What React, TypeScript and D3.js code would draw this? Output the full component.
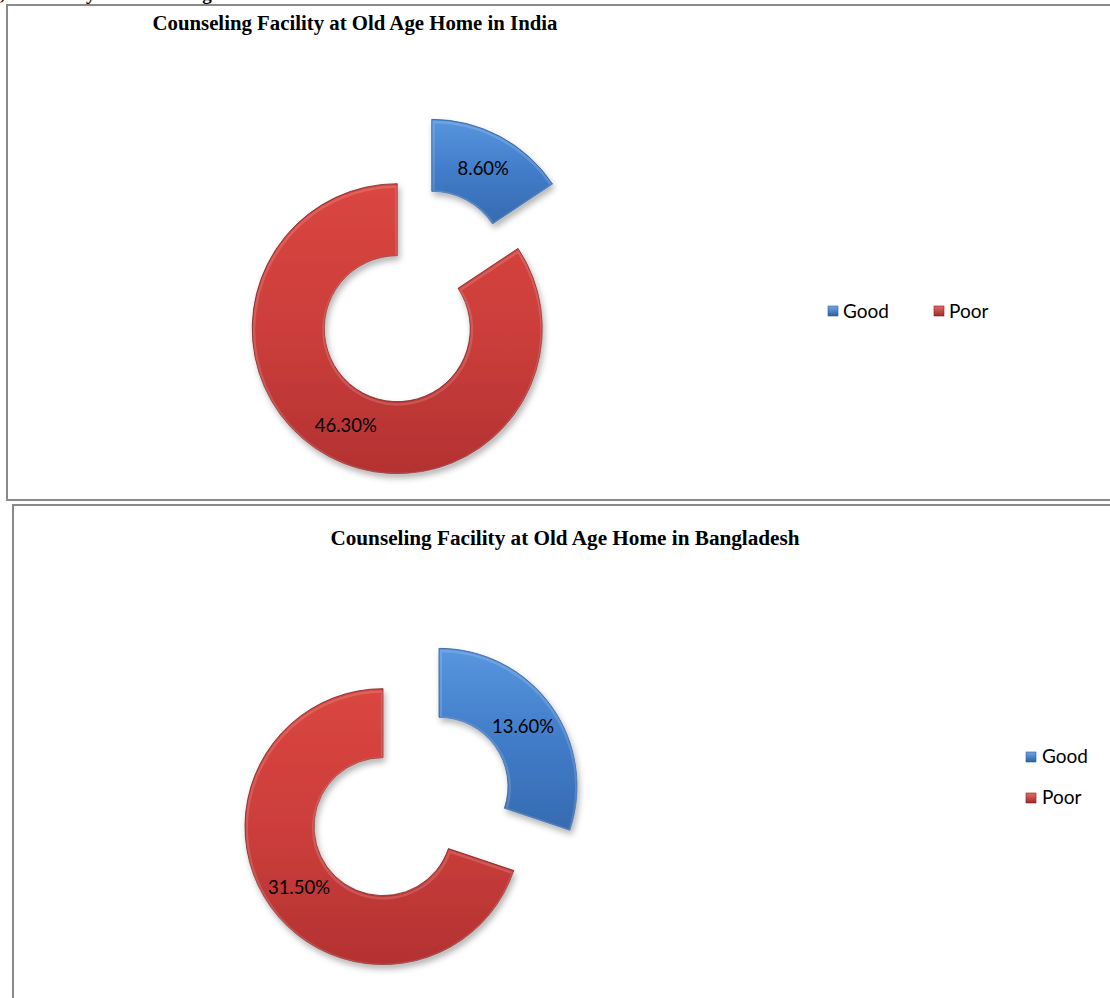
import React from "react";
import * as d3 from "d3";

const categories = ["Good", "Poor"];
const indiaValues = [8.6, 46.3];
const bangladeshValues = [13.6, 31.5];
const indiaLabels = ["8.60%", "46.30%"];
const bangladeshLabels = ["13.60%", "31.50%"];
const titles = [
  "Counseling Facility at Old Age Home in India",
  "Counseling Facility at Old Age Home in Bangladesh",
];

const W = 1110;
const H = 998;

const fills = ["url(#gBlue)", "url(#gRed)"];
const strokes = ["#2c5d9c", "#7a1f1f"];

type DonutProps = {
  values: number[];
  labels: string[];
  cx: number;
  cy: number;
  R: number;
  r: number;
  explode: number;
  id: string;
};

function Donut({ values, labels, cx, cy, R, r, explode, id }: DonutProps) {
  const pie = d3
    .pie<number>()
    .sort(null)
    .value((d) => d)
    .startAngle(0)
    .endAngle(2 * Math.PI);
  const arcs = pie(values);
  const arc = d3.arc<d3.PieArcDatum<number>>().innerRadius(r).outerRadius(R);
  return (
    <g transform={`translate(${cx},${cy})`}>
      {arcs.map((a, i) => {
        const mid = (a.startAngle + a.endAngle) / 2;
        const dx = Math.sin(mid) * explode;
        const dy = -Math.cos(mid) * explode;
        const [lx, ly] = arc.centroid(a);
        const clipId = `clip-${id}-${i}`;
        return (
          <g key={i} transform={`translate(${dx},${dy})`}>
            <clipPath id={clipId}>
              <path d={arc(a) || ""} />
            </clipPath>
            <path
              d={arc(a) || ""}
              fill={fills[i]}
              stroke={strokes[i]}
              strokeWidth={1}
              strokeOpacity={0.8}
              filter="url(#shadow)"
            />
            <path
              d={arc(a) || ""}
              fill="none"
              stroke="#ffffff"
              strokeOpacity={0.15}
              strokeWidth={5}
              transform="translate(0.5,1.5)"
              clipPath={`url(#${clipId})`}
            />
            <text
              x={lx}
              y={ly}
              textAnchor="middle"
              dominantBaseline="central"
              fontFamily="Lato, 'Open Sans', sans-serif"
              fontSize={18.5}
              fill="#000"
            >
              {labels[i]}
            </text>
          </g>
        );
      })}
    </g>
  );
}

function LegendSwatch({ x, y, i }: { x: number; y: number; i: number }) {
  return (
    <rect
      x={x}
      y={y}
      width={10}
      height={10}
      fill={i === 0 ? "url(#lgBlue)" : "url(#lgRed)"}
      stroke={strokes[i]}
      strokeWidth={0.6}
    />
  );
}

export default function App() {
  const legendFont = "Lato, 'Open Sans', sans-serif";
  const serif = "'Liberation Serif', 'Times New Roman', serif";
  return (
    <svg
      width={W}
      height={H}
      viewBox={`0 0 ${W} ${H}`}
      style={{ position: "absolute", left: 0, top: 0, background: "#fff" }}
    >
      <defs>
        <linearGradient id="gBlue" x1="0" y1="0" x2="0" y2="1">
          <stop offset="0%" stopColor="#5896de" />
          <stop offset="50%" stopColor="#417cc9" />
          <stop offset="100%" stopColor="#366bb0" />
        </linearGradient>
        <linearGradient id="gRed" x1="0" y1="0" x2="0" y2="1">
          <stop offset="0%" stopColor="#da4640" />
          <stop offset="50%" stopColor="#cc3e3b" />
          <stop offset="100%" stopColor="#b33232" />
        </linearGradient>
        <linearGradient id="lgBlue" x1="0" y1="0" x2="0" y2="1">
          <stop offset="0%" stopColor="#6ea6e6" />
          <stop offset="100%" stopColor="#2f5f9f" />
        </linearGradient>
        <linearGradient id="lgRed" x1="0" y1="0" x2="0" y2="1">
          <stop offset="0%" stopColor="#e86a62" />
          <stop offset="100%" stopColor="#9e2a2a" />
        </linearGradient>
        <filter id="shadow" x="-20%" y="-20%" width="150%" height="150%">
          <feDropShadow dx="2" dy="4" stdDeviation="3" floodColor="#000" floodOpacity="0.3" />
        </filter>
      </defs>

      {/* cut-off heading from the page above */}
      <text x={0} y={0} fontFamily={serif} fontWeight="bold" fontSize={19} fill="#000">
        , on Facility of Counseling
      </text>

      {/* Panel 1 */}
      <rect x={7} y={5} width={W + 20} height={495} fill="#fff" stroke="#8a8a8a" strokeWidth={2} />
      <text x={355} y={30} textAnchor="middle" fontFamily={serif} fontWeight="bold" fontSize={20.8}>
        {titles[0]}
      </text>
      <Donut
        id="in"
        values={indiaValues}
        labels={indiaLabels}
        cx={414.5}
        cy={296.5}
        R={145}
        r={73}
        explode={36.5}
      />
      <LegendSwatch x={828} y={306} i={0} />
      <text x={843} y={318} fontFamily={legendFont} fontSize={19}>
        {categories[0]}
      </text>
      <LegendSwatch x={934} y={306} i={1} />
      <text x={949} y={318} fontFamily={legendFont} fontSize={19}>
        {categories[1]}
      </text>

      {/* Panel 2 */}
      <rect x={13} y={505} width={W + 20} height={H + 20} fill="#fff" stroke="#8a8a8a" strokeWidth={2} />
      <text x={565} y={545} textAnchor="middle" fontFamily={serif} fontWeight="bold" fontSize={21.2}>
        {titles[1]}
      </text>
      <Donut
        id="bd"
        values={bangladeshValues}
        labels={bangladeshLabels}
        cx={411}
        cy={806.5}
        R={138}
        r={69}
        explode={34.5}
      />
      <LegendSwatch x={1026} y={752} i={0} />
      <text x={1042} y={763} fontFamily={legendFont} fontSize={19}>
        {categories[0]}
      </text>
      <LegendSwatch x={1026} y={793} i={1} />
      <text x={1042} y={804} fontFamily={legendFont} fontSize={19}>
        {categories[1]}
      </text>
    </svg>
  );
}
